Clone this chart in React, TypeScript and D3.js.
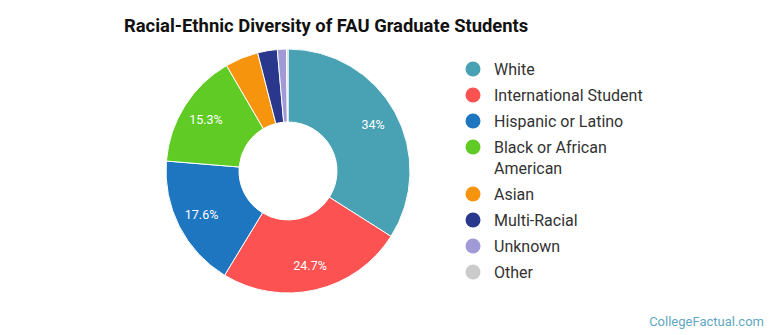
import React from 'react';
import * as d3 from 'd3';

const WIDTH = 770;
const HEIGHT = 335;

const categories = [
  'White',
  'International Student',
  'Hispanic or Latino',
  'Black or African American',
  'Asian',
  'Multi-Racial',
  'Unknown',
  'Other',
];
const shares = [34, 24.7, 17.6, 15.3, 4.4, 2.6, 1.2, 0.2];
const colors = ['#49a1b4', '#fd5252', '#1e75c0', '#5fcb24', '#f7940e', '#29388c', '#a09bd6', '#cbcbcb'];
// legend rows, wrapped as in the picture
const legendLines = [['White'], ['International Student'], ['Hispanic or Latino'], ['Black or African', 'American'], ['Asian'], ['Multi-Racial'], ['Unknown'], ['Other']];

const CX = 288;
const CY = 171;
const R_OUT = 122;
const R_IN = 49;
const R_LABEL = 97;

const App = () => {
  const pie = d3
    .pie<number>()
    .sort(null)
    .value((d) => d);
  const arcs = pie(shares);
  const arc = d3.arc<d3.PieArcDatum<number>>().innerRadius(R_IN).outerRadius(R_OUT);
  const labelArc = d3.arc<d3.PieArcDatum<number>>().innerRadius(R_LABEL).outerRadius(R_LABEL);

  let y = 69;
  const rows = legendLines.map((lines, i) => {
    const row = { y, lines, color: colors[i], key: categories[i] };
    y += 26 + (lines.length - 1) * 21;
    return row;
  });

  return (
    <svg width={WIDTH} height={HEIGHT} style={{ position: 'absolute', left: 0, top: 0, fontFamily: 'Roboto' }}>
      <rect width={WIDTH} height={HEIGHT} fill="#fff" />
      <text x={124} y={32} fontSize={18.4} fontWeight="bold" fill="#111">
        Racial-Ethnic Diversity of FAU Graduate Students
      </text>
      <g transform={`translate(${CX},${CY})`}>
        {arcs.map((a, i) => (
          <path key={categories[i]} d={arc(a) || ''} fill={colors[i]} stroke="#fff" strokeWidth={1} />
        ))}
        {arcs.map((a, i) => {
          if (shares[i] < 10) return null;
          const [lx, ly] = labelArc.centroid(a);
          return (
            <text key={i} x={lx} y={ly} dy="0.35em" textAnchor="middle" fontSize={12.5} fill="#fff">
              {`${shares[i]}%`}
            </text>
          );
        })}
      </g>
      <g>
        {rows.map((r) => (
          <g key={r.key}>
            <circle cx={473} cy={r.y} r={7.5} fill={r.color} />
            {r.lines.map((l, j) => (
              <text key={j} x={494} y={r.y + j * 21} dy="0.35em" fontSize={16} fill="#333">
                {l}
              </text>
            ))}
          </g>
        ))}
      </g>
      <text x={764} y={326} textAnchor="end" fontSize={13} fill="#5fa8c0">
        CollegeFactual.com
      </text>
    </svg>
  );
};

export default App;
